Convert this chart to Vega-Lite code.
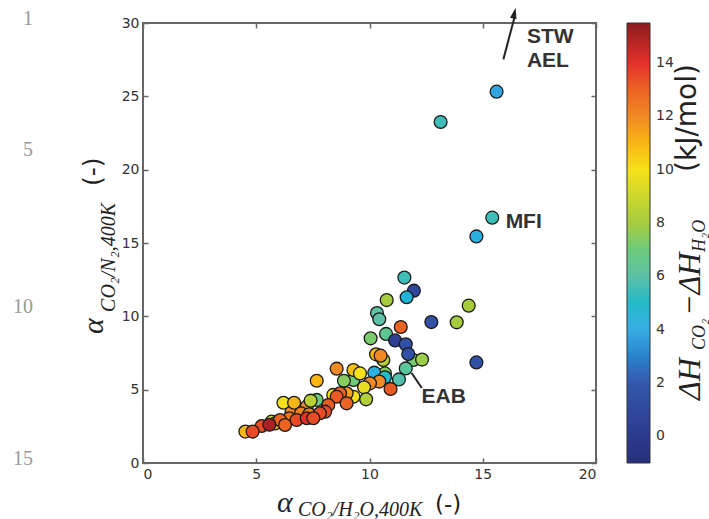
{
  "$schema": "https://vega.github.io/schema/vega-lite/v6.json",
  "width": 453,
  "height": 440,
  "autosize": {"type": "none"},
  "padding": {"left": 143, "top": 23, "right": 113, "bottom": 56},
  "background": "white",
  "config": {
    "view": {"stroke": "#666", "strokeWidth": 2},
    "axis": {
      "grid": false,
      "domain": false,
      "labelFont": "DejaVu Sans",
      "labelFontSize": 14,
      "labelColor": "#333",
      "tickColor": "#666",
      "tickWidth": 1.5,
      "tickSize": -5,
      "labelPadding": 9,
      "title": null
    }
  },
  "datasets": {
    "pts": [
      {"x": 11.94, "y": 7.02, "c": 7.2},
      {"x": 10.61, "y": 7.02, "c": 8.5},
      {"x": 10.68, "y": 6.11, "c": 7.5},
      {"x": 9.29, "y": 5.66, "c": 7},
      {"x": 7.67, "y": 4.3, "c": 7},
      {"x": 8.4, "y": 4.64, "c": 10},
      {"x": 4.52, "y": 2.14, "c": 11},
      {"x": 5.68, "y": 2.82, "c": 9},
      {"x": 5.83, "y": 2.7, "c": 11},
      {"x": 7.23, "y": 3.84, "c": 12},
      {"x": 6.56, "y": 3.5, "c": 12},
      {"x": 15.61, "y": 25.32, "c": 3.8},
      {"x": 13.14, "y": 23.25, "c": 5.5},
      {"x": 15.42, "y": 16.73, "c": 5.5},
      {"x": 14.72, "y": 15.45, "c": 4.2},
      {"x": 11.54, "y": 12.64, "c": 5.5},
      {"x": 11.96, "y": 11.75, "c": 0.8},
      {"x": 11.64, "y": 11.3, "c": 4.5},
      {"x": 10.76, "y": 11.11, "c": 8},
      {"x": 14.38, "y": 10.73, "c": 8},
      {"x": 12.73, "y": 9.61, "c": 1.5},
      {"x": 13.85, "y": 9.59, "c": 8},
      {"x": 10.33, "y": 10.23, "c": 6},
      {"x": 10.43, "y": 9.8, "c": 6},
      {"x": 11.38, "y": 9.27, "c": 13},
      {"x": 10.73, "y": 8.8, "c": 6.5},
      {"x": 10.05, "y": 8.5, "c": 7.3},
      {"x": 11.13, "y": 8.36, "c": 0.3},
      {"x": 11.6, "y": 8.09, "c": 1.5},
      {"x": 11.71, "y": 7.43, "c": 1.5},
      {"x": 12.32, "y": 7.05, "c": 7.8},
      {"x": 14.72, "y": 6.86, "c": 1.5},
      {"x": 11.6, "y": 6.45, "c": 6.3},
      {"x": 11.3, "y": 5.7, "c": 5.8},
      {"x": 10.29, "y": 7.41, "c": 11},
      {"x": 10.49, "y": 7.32, "c": 12},
      {"x": 10.21, "y": 6.16, "c": 4.2},
      {"x": 10.68, "y": 5.84, "c": 5},
      {"x": 10.43, "y": 5.55, "c": 12},
      {"x": 10.93, "y": 5.05, "c": 13.2},
      {"x": 8.55, "y": 6.43, "c": 12},
      {"x": 9.29, "y": 6.34, "c": 10.8},
      {"x": 9.58, "y": 6.11, "c": 10},
      {"x": 7.67, "y": 5.61, "c": 11},
      {"x": 8.87, "y": 5.61, "c": 7.5},
      {"x": 10.02, "y": 5.43, "c": 12},
      {"x": 9.76, "y": 5.16, "c": 9.7},
      {"x": 9.85, "y": 4.34, "c": 8.3},
      {"x": 6.2, "y": 4.11, "c": 10},
      {"x": 6.67, "y": 4.11, "c": 11},
      {"x": 7.4, "y": 4.25, "c": 8.5},
      {"x": 9.29, "y": 4.52, "c": 10},
      {"x": 8.99, "y": 4.75, "c": 11.5},
      {"x": 8.7, "y": 4.75, "c": 13},
      {"x": 8.55, "y": 4.52, "c": 13.2},
      {"x": 8.99, "y": 4.07, "c": 13},
      {"x": 8.18, "y": 3.95, "c": 13.2},
      {"x": 8.04, "y": 3.5, "c": 13.5},
      {"x": 6.98, "y": 3.39, "c": 12.2},
      {"x": 7.34, "y": 3.32, "c": 12.2},
      {"x": 7.81, "y": 3.39, "c": 13.5},
      {"x": 6.46, "y": 3.05, "c": 12.6},
      {"x": 6.05, "y": 2.93, "c": 13},
      {"x": 6.78, "y": 2.93, "c": 13.5},
      {"x": 7.23, "y": 3.05, "c": 14},
      {"x": 7.52, "y": 3.05, "c": 13.5},
      {"x": 6.27, "y": 2.59, "c": 13},
      {"x": 5.24, "y": 2.52, "c": 13.5},
      {"x": 5.58, "y": 2.61, "c": 15},
      {"x": 4.84, "y": 2.14, "c": 13.5}
    ]
  },
  "layer": [
    {
      "data": {"name": "pts"},
      "mark": {"type": "point", "shape": "circle", "filled": true, "size": 165, "stroke": "#1a1a1a", "strokeWidth": 1.3, "opacity": 1},
      "encoding": {
        "x": {"field": "x", "type": "quantitative", "scale": {"domain": [0, 20]}, "axis": {"orient": "bottom", "values": [0, 5, 10, 15, 20]}},
        "y": {"field": "y", "type": "quantitative", "scale": {"domain": [0, 30]}, "axis": {"orient": "left", "values": [0, 5, 10, 15, 20, 25, 30]}},
        "fill": {
          "field": "c",
          "type": "quantitative",
          "scale": {
            "domain": [-1, 0, 2, 4, 6, 8, 10, 12, 14, 15.5],
            "range": ["#26307a", "#2c3a8e", "#3458ad", "#38ade4", "#5cc1a6", "#a6cc3e", "#f6e11a", "#f08a24", "#e4302a", "#8c1c1e"]
          },
          "legend": {
            "orient": "none",
            "legendX": 484,
            "legendY": 0,
            "direction": "vertical",
            "gradientLength": 440,
            "gradientThickness": 23,
            "title": null,
            "values": [0, 2, 4, 6, 8, 10, 12, 14],
            "labelFont": "DejaVu Sans",
            "labelFontSize": 14,
            "labelColor": "#333",
            "labelOffset": 6,
            "gradientStrokeColor": "#333",
            "gradientStrokeWidth": 1
          }
        }
      }
    },
    {
      "data": {"name": "pts"},
      "mark": {"type": "point", "opacity": 0},
      "encoding": {
        "x": {"field": "x", "type": "quantitative", "scale": {"domain": [0, 20]}, "axis": {"orient": "top", "values": [0, 5, 10, 15, 20], "labels": false}},
        "y": {"field": "y", "type": "quantitative", "scale": {"domain": [0, 30]}, "axis": {"orient": "right", "values": [0, 5, 10, 15, 20, 25, 30], "labels": false}}
      }
    },
    {
      "data": {"values": [{"x": 15.91, "y": 27.52, "x2": 16.42, "y2": 30.5}, {"x": 12.31, "y": 5.11, "x2": 11.86, "y2": 6.14}]},
      "mark": {"type": "rule", "stroke": "#222", "strokeWidth": 2},
      "encoding": {
        "x": {"field": "x", "type": "quantitative", "scale": {"domain": [0, 20]}, "axis": null},
        "y": {"field": "y", "type": "quantitative", "scale": {"domain": [0, 30]}, "axis": null},
        "x2": {"field": "x2"},
        "y2": {"field": "y2"}
      }
    },
    {
      "data": {"values": [{"x": 16.4, "y": 30.68}]},
      "mark": {"type": "point", "shape": "M0,-1L0.6,1L-0.6,1Z", "filled": true, "fill": "#222", "size": 121, "angle": 13, "opacity": 1},
      "encoding": {
        "x": {"field": "x", "type": "quantitative", "scale": {"domain": [0, 20]}, "axis": null},
        "y": {"field": "y", "type": "quantitative", "scale": {"domain": [0, 30]}, "axis": null}
      }
    },
    {
      "data": {"values": [{"x": 16.95, "y": 28.62, "t": "STW"}, {"x": 16.95, "y": 27.02, "t": "AEL"}, {"x": 16.01, "y": 16.0, "t": "MFI"}, {"x": 12.3, "y": 4.07, "t": "EAB"}]},
      "mark": {"type": "text", "font": "Liberation Sans", "fontWeight": "bold", "fontSize": 21, "fill": "#333", "align": "left", "baseline": "alphabetic"},
      "encoding": {
        "x": {"field": "x", "type": "quantitative", "scale": {"domain": [0, 20]}, "axis": null},
        "y": {"field": "y", "type": "quantitative", "scale": {"domain": [0, 30]}, "axis": null},
        "text": {"field": "t"}
      }
    },
    {
      "data": {"values": [{"x": -4.86, "y": 29.86, "t": "1"}, {"x": -4.86, "y": 20.93, "t": "5"}, {"x": -4.86, "y": 10.23, "t": "10"}, {"x": -4.86, "y": -0.14, "t": "15"}]},
      "mark": {"type": "text", "font": "Liberation Serif", "fontSize": 20, "fill": "#999", "align": "right", "baseline": "alphabetic"},
      "encoding": {
        "x": {"field": "x", "type": "quantitative", "scale": {"domain": [0, 20]}, "axis": null},
        "y": {"field": "y", "type": "quantitative", "scale": {"domain": [0, 30]}, "axis": null},
        "text": {"field": "t"}
      }
    },
    {
      "data": {"values": [{"x": 5.92, "y": -3.34, "t": "α"}]},
      "mark": {"type": "text", "font": "Liberation Serif", "fontStyle": "italic", "fontSize": 30, "fill": "#222", "align": "left", "baseline": "alphabetic"},
      "encoding": {
        "x": {"field": "x", "type": "quantitative", "scale": {"domain": [0, 20]}, "axis": null},
        "y": {"field": "y", "type": "quantitative", "scale": {"domain": [0, 30]}, "axis": null},
        "text": {"field": "t"}
      }
    },
    {
      "data": {"values": [{"x": 6.84, "y": -3.61, "t": "CO₂/H₂O,400K"}]},
      "mark": {"type": "text", "font": "Liberation Serif", "fontStyle": "italic", "fontSize": 20, "fill": "#222", "align": "left", "baseline": "alphabetic"},
      "encoding": {
        "x": {"field": "x", "type": "quantitative", "scale": {"domain": [0, 20]}, "axis": null},
        "y": {"field": "y", "type": "quantitative", "scale": {"domain": [0, 30]}, "axis": null},
        "text": {"field": "t"}
      }
    },
    {
      "data": {"values": [{"x": 12.89, "y": -3.34, "t": "(-)"}]},
      "mark": {"type": "text", "font": "DejaVu Sans", "fontSize": 23, "fill": "#222", "align": "left", "baseline": "alphabetic"},
      "encoding": {
        "x": {"field": "x", "type": "quantitative", "scale": {"domain": [0, 20]}, "axis": null},
        "y": {"field": "y", "type": "quantitative", "scale": {"domain": [0, 30]}, "axis": null},
        "text": {"field": "t"}
      }
    },
    {
      "data": {"values": [{"x": -1.77, "y": 8.8, "t": "α"}]},
      "mark": {"type": "text", "angle": 270, "font": "Liberation Serif", "fontStyle": "italic", "fontSize": 30, "fill": "#222", "align": "left", "baseline": "alphabetic"},
      "encoding": {
        "x": {"field": "x", "type": "quantitative", "scale": {"domain": [0, 20]}, "axis": null},
        "y": {"field": "y", "type": "quantitative", "scale": {"domain": [0, 30]}, "axis": null},
        "text": {"field": "t"}
      }
    },
    {
      "data": {"values": [{"x": -1.24, "y": 10.3, "t": "CO₂/N₂,400K"}]},
      "mark": {"type": "text", "angle": 270, "font": "Liberation Serif", "fontStyle": "italic", "fontSize": 20, "fill": "#222", "align": "left", "baseline": "alphabetic"},
      "encoding": {
        "x": {"field": "x", "type": "quantitative", "scale": {"domain": [0, 20]}, "axis": null},
        "y": {"field": "y", "type": "quantitative", "scale": {"domain": [0, 30]}, "axis": null},
        "text": {"field": "t"}
      }
    },
    {
      "data": {"values": [{"x": -1.85, "y": 18.89, "t": "(-)"}]},
      "mark": {"type": "text", "angle": 270, "font": "DejaVu Sans", "fontSize": 25, "fill": "#222", "align": "left", "baseline": "alphabetic"},
      "encoding": {
        "x": {"field": "x", "type": "quantitative", "scale": {"domain": [0, 20]}, "axis": null},
        "y": {"field": "y", "type": "quantitative", "scale": {"domain": [0, 30]}, "axis": null},
        "text": {"field": "t"}
      }
    },
    {
      "data": {"values": [{"x": 24.59, "y": 4.3, "t": "ΔH"}, {"x": 24.59, "y": 10.02, "t": "−ΔH"}]},
      "mark": {"type": "text", "angle": 270, "font": "Liberation Serif", "fontStyle": "italic", "fontSize": 32, "fill": "#222", "align": "left", "baseline": "alphabetic"},
      "encoding": {
        "x": {"field": "x", "type": "quantitative", "scale": {"domain": [0, 20]}, "axis": null},
        "y": {"field": "y", "type": "quantitative", "scale": {"domain": [0, 30]}, "axis": null},
        "text": {"field": "t"}
      }
    },
    {
      "data": {"values": [{"x": 24.81, "y": 7.7, "t": "CO₂"}, {"x": 24.81, "y": 14.39, "t": "H₂O"}]},
      "mark": {"type": "text", "angle": 270, "font": "Liberation Serif", "fontStyle": "italic", "fontSize": 18, "fill": "#222", "align": "left", "baseline": "alphabetic"},
      "encoding": {
        "x": {"field": "x", "type": "quantitative", "scale": {"domain": [0, 20]}, "axis": null},
        "y": {"field": "y", "type": "quantitative", "scale": {"domain": [0, 30]}, "axis": null},
        "text": {"field": "t"}
      }
    },
    {
      "data": {"values": [{"x": 24.42, "y": 19.84, "t": "(kJ/mol)"}]},
      "mark": {"type": "text", "angle": 270, "font": "DejaVu Sans", "fontSize": 28, "fill": "#222", "align": "left", "baseline": "alphabetic"},
      "encoding": {
        "x": {"field": "x", "type": "quantitative", "scale": {"domain": [0, 20]}, "axis": null},
        "y": {"field": "y", "type": "quantitative", "scale": {"domain": [0, 30]}, "axis": null},
        "text": {"field": "t"}
      }
    }
  ],
  "resolve": {"axis": {"x": "independent", "y": "independent"}}
}
